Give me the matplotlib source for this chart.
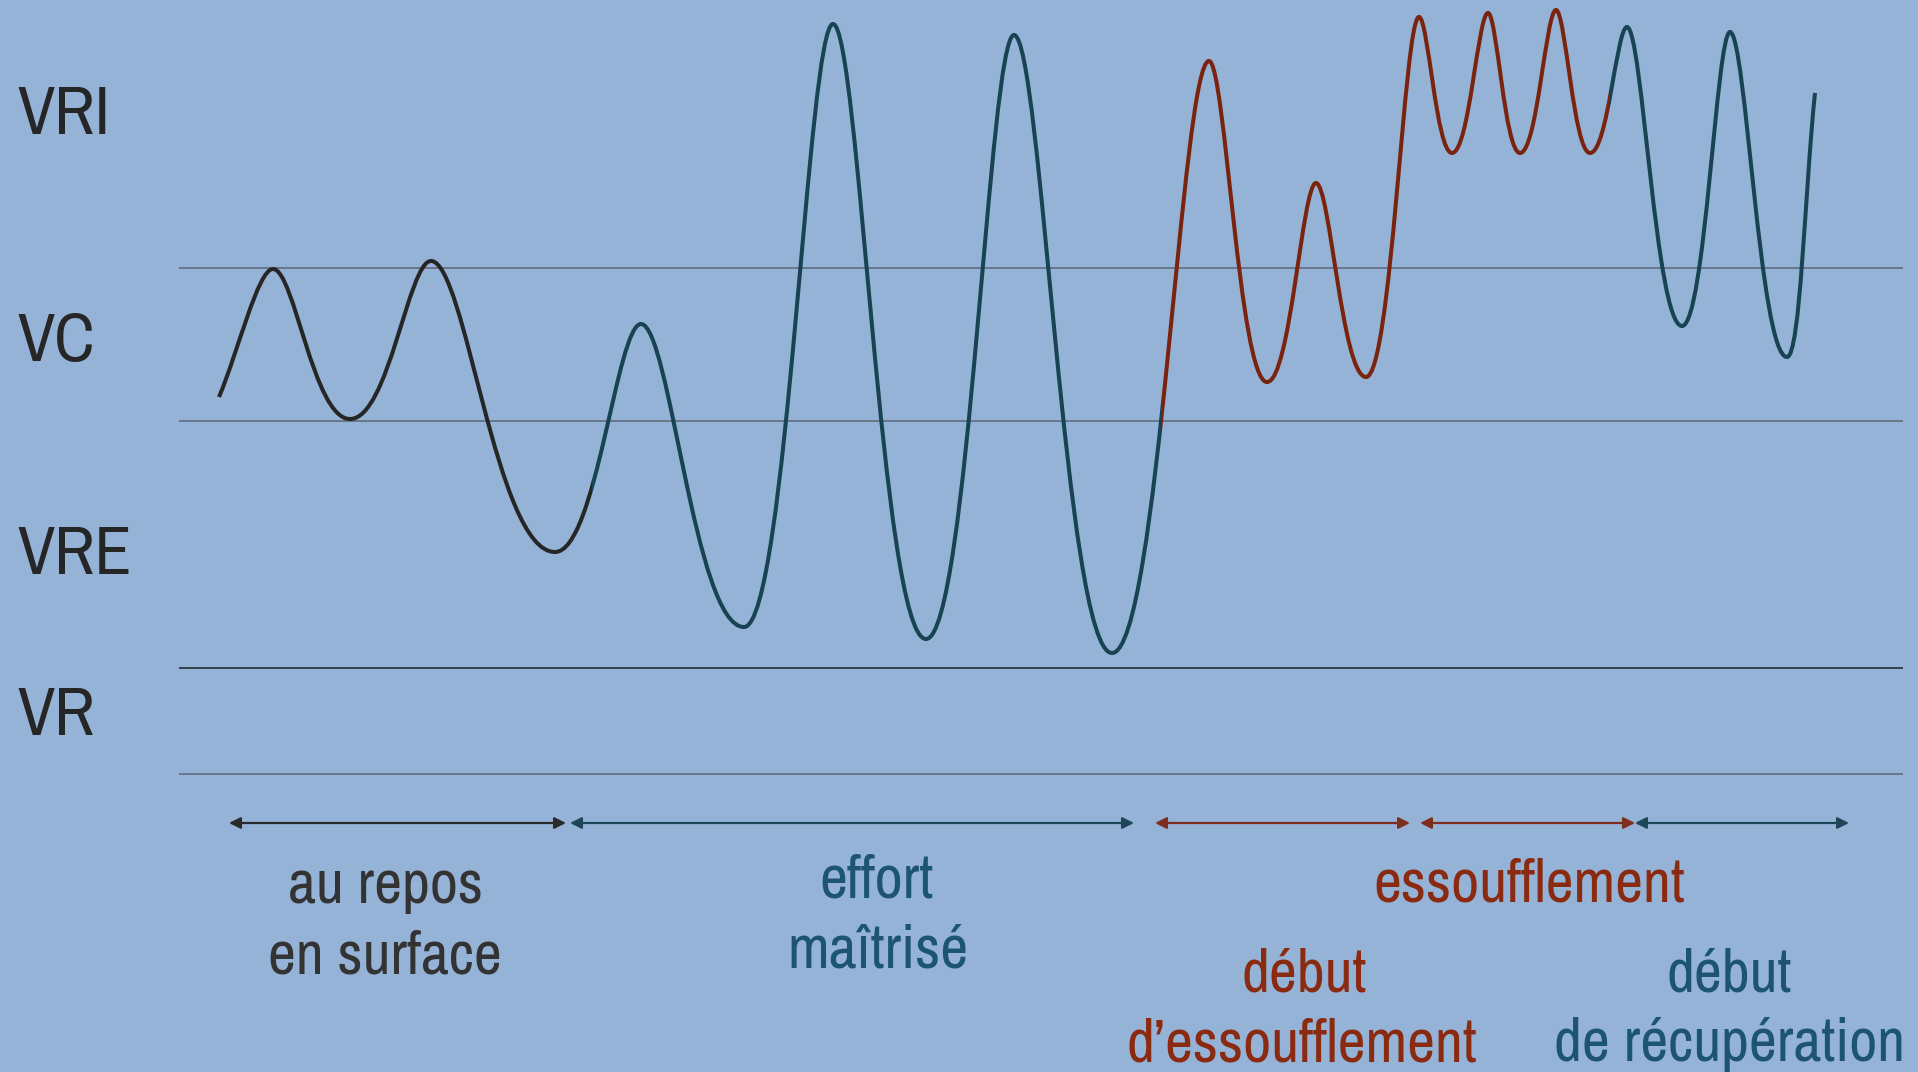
import matplotlib
matplotlib.use("Agg")
import matplotlib.pyplot as plt
from matplotlib.path import Path
from matplotlib.patches import PathPatch, Rectangle

# picture is laid out in pixel units (x right, y down)
W = 1918; H = 1072
bg = "#95b3d7"

# level labels and separating lines
levels = ["VRI", "VC", "VRE", "VR"]
level_base = [134, 361, 574, 735]
line_y = [268, 421, 668, 774]
line_col = ["#68778a", "#68778a", "#36404c", "#68778a"]
line_x0 = 180; line_x1 = 1902

# extrema of the wave (x, y)
wave_x = [219, 273, 350, 431, 555, 641, 744, 833, 926, 1014, 1112, 1209, 1267, 1316, 1366,
          1419, 1452, 1488, 1520, 1556, 1590, 1627, 1682, 1730, 1787, 1815]
wave_y = [397, 269, 419, 261, 552, 324, 627, 24, 639, 35, 653, 61, 382, 183, 377,
          17, 153, 13, 153, 10, 153, 27, 326, 32, 357, 93]

# colour pieces of the wave, by x range
piece_x = [(200, 592), (592, 1162), (1162, 1609), (1609, 1840)]
piece_col = ["#262626", "#184352", "#7a2410", "#184352"]

# phase arrows
arrow_x = [(229, 566), (570, 1134), (1155, 1410), (1420, 1635), (1635, 1849)]
arrow_y = 823
arrow_col = ["#2a2a2a", "#1d4658", "#7e2e1c", "#7e2e1c", "#1d4658"]

# phase texts
phase_txt = ["au repos", "en surface", "effort", "maîtrisé", "essoufflement",
             "début", "d\u2019essoufflement", "début", "de récupération"]
phase_x = [385, 385, 877, 878, 1529, 1304, 1302, 1729, 1729]
phase_base = [903, 974, 898, 967, 902, 992, 1061, 992, 1061]
phase_col = ["#333333", "#333333", "#1d5570", "#1d5570", "#8a2a10",
             "#8a2a10", "#8a2a10", "#1d5570", "#1d5570"]

fam = ["Archivo Narrow", "Liberation Sans", "DejaVu Sans"]

fig = plt.figure(figsize=(W/100, H/100), dpi=100)
fig.patch.set_facecolor(bg)
ax = fig.add_axes([0, 0, 1, 1])
ax.set_xlim(0, W); ax.set_ylim(H, 0)
ax.axis("off")

for y, c in zip(line_y, line_col):
    ax.plot([line_x0, line_x1], [y, y], color=c, lw=1.4, zorder=1)

for t, yb in zip(levels, level_base):
    ax.text(17, yb, t, fontsize=49, family=fam, color="#262626", va="baseline", ha="left")

# smooth wave through the extrema, cubic bezier pieces
# peaks are sharper than troughs in the drawing
kp = 0.28; kt = 0.48
n = len(wave_x)
def kof(i):
    if i == 0 or i == n - 1:
        return None
    return kp if wave_y[i] < wave_y[i-1] else kt

verts = [(wave_x[0], wave_y[0])]
codes = [Path.MOVETO]
for i in range(n - 1):
    x0, y0 = wave_x[i], wave_y[i]
    x1, y1 = wave_x[i+1], wave_y[i+1]
    dx = x1 - x0; dy = y1 - y0
    ka = kof(i); kb = kof(i+1)
    if ka is None:
        c1 = (x0 + 0.36*dx, y0 + 0.36*dy)
    else:
        c1 = (x0 + ka*dx, y0)
    if kb is None:
        c2 = (x1 - 0.36*dx, y1 - 0.36*dy)
    else:
        c2 = (x1 - kb*dx, y1)
    verts += [c1, c2, (x1, y1)]
    codes += [Path.CURVE4]*3
wave = Path(verts, codes)

for (xa, xb), c in zip(piece_x, piece_col):
    p = PathPatch(wave, facecolor="none", edgecolor=c, lw=2.9, capstyle="butt", zorder=3)
    ax.add_patch(p)
    clip = Rectangle((xa, 0), xb - xa, H, transform=ax.transData)
    p.set_clip_path(clip)

for (xa, xb), c in zip(arrow_x, arrow_col):
    ax.annotate("", xy=(xb, arrow_y), xytext=(xa, arrow_y),
                arrowprops=dict(arrowstyle="<|-|>", color=c, lw=1.6,
                                mutation_scale=17, shrinkA=0, shrinkB=0))

for t, x, yb, c in zip(phase_txt, phase_x, phase_base, phase_col):
    ax.text(x, yb, t, fontsize=44, family=fam, color=c, ha="center", va="baseline")

fig.savefig("out.png", dpi=100, facecolor=bg)
